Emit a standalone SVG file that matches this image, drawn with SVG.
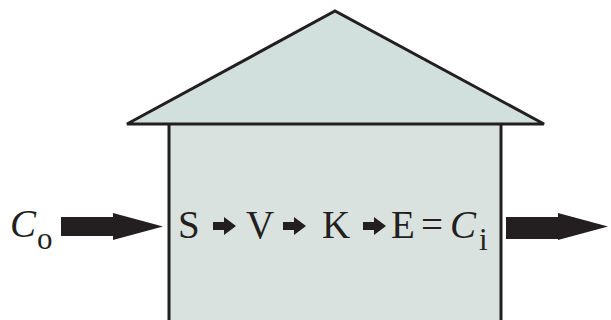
<svg xmlns="http://www.w3.org/2000/svg" xmlns:xlink="http://www.w3.org/1999/xlink" width="611" height="320" viewBox="0 0 611 320">
<style>
.t{font-family:"Liberation Serif","Times New Roman",serif;font-size:39px;fill:#231f20}
.i{font-style:italic}
.s{font-size:31px}
.ln{stroke:#231f20;stroke-width:3;fill:none}
.ar{fill:#231f20}
</style>
<defs>
<polygon id="sa" points="0,-4 11,-4 11,-9 23,0 11,9 11,4 0,4"/>
</defs>
<rect width="611" height="320" fill="#ffffff"/>
<g id="house">
<rect x="169" y="124" width="332" height="200" fill="#d9e2df"/>
<line class="ln" x1="169" y1="123" x2="169" y2="322"/>
<line class="ln" x1="501" y1="123" x2="501" y2="322"/>
<polygon points="127,124 335,11 544,124" fill="#d2e0dd" stroke="#231f20" stroke-width="3" stroke-linejoin="miter"/>
</g>
<g id="connectors">
<polygon class="ar" points="61,217 113,217 113,213 163,226.5 113,240 113,236 61,236"/>
<polygon class="ar" points="506,217 558,217 558,213 608,226.5 558,240 558,239 506,239"/>
<use xlink:href="#sa" class="ar" transform="translate(213,226)"/>
<use xlink:href="#sa" class="ar" transform="translate(283,226)"/>
<use xlink:href="#sa" class="ar" transform="translate(363,226)"/>
</g>
<g id="input">
<text class="t i" x="10" y="237">C</text>
<text class="t s" x="37" y="249">o</text>
</g>
<g id="labels">
<text class="t" x="178" y="238">S</text>
<text class="t" x="246" y="238">V</text>
<text class="t" x="322" y="238">K</text>
<text class="t" x="391" y="238">E</text>
<text class="t" x="421" y="238">=</text>
<text class="t i" x="450" y="238">C</text>
<text class="t s" x="479" y="250">i</text>
</g>
</svg>
